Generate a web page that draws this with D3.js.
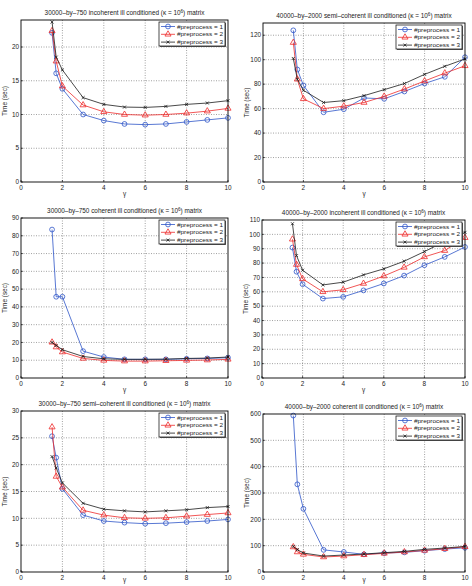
<!DOCTYPE html>
<html>
<head>
<meta charset="utf-8">
<script src="https://cdn.jsdelivr.net/npm/d3@7"></script>
<style>
  body { margin: 0; background: #fff; }
  svg { display: block; font-family: "Liberation Sans", Arial, sans-serif; }
</style>
</head>
<body>
<svg id="chart" width="472" height="586"></svg>
<script>
// gamma values shared by every panel
const gammas = [1.5, 1.7, 2, 3, 4, 5, 6, 7, 8, 9, 10];
const xTicks = [0, 2, 4, 6, 8, 10];
const seriesNames = ["#preprocess = 1", "#preprocess = 2", "#preprocess = 3"];

const titles = [
  "30000\u2013by\u2013750 incoherent ill conditioned (\u03ba = 10",
  "40000\u2013by\u20132000 semi\u2013coherent ill conditioned (\u03ba = 10",
  "30000\u2013by\u2013750 coherent ill conditioned (\u03ba = 10",
  "40000\u2013by\u20132000 incoherent ill conditioned (\u03ba = 10",
  "30000\u2013by\u2013750 semi\u2013coherent ill conditioned (\u03ba = 10",
  "40000\u2013by\u20132000 coherent ill conditioned (\u03ba = 10"
];
const yMax = [24, 130, 90, 110, 30, 600];
const yStep = [5, 20, 10, 10, 5, 100];

// time (sec) per panel, one array per #preprocess
const inc750_1 = [22.1, 16.1, 13.8, 10.0, 9.1, 8.6, 8.5, 8.6, 8.9, 9.2, 9.5];
const inc750_2 = [22.4, 17.9, 14.2, 11.4, 10.4, 10.0, 9.9, 10.0, 10.2, 10.5, 10.9];
const inc750_3 = [23.7, 18.5, 16.6, 12.5, 11.5, 11.1, 11.05, 11.2, 11.5, 11.7, 12.05];

const semi2000_1 = [124, 92, 79, 57, 59.5, 68.7, 68, 74, 80.5, 86, 102];
const semi2000_2 = [114, 84, 68, 60, 62, 65, 70, 76, 82.6, 89, 95];
const semi2000_3 = [101, 84, 75, 65, 66.5, 70.6, 75.5, 80.5, 88, 94.6, 100.6];

const coh750_1 = [83.5, 45.7, 45.7, 15.1, 11.8, 10.5, 10.5, 10.5, 10.8, 11, 11.4];
const coh750_2 = [20.1, 17.4, 14.6, 11, 9.9, 9.5, 9.5, 9.7, 9.9, 10.1, 10.5];
const coh750_3 = [20, 18.3, 15.9, 12.1, 10.8, 10.5, 10.5, 10.6, 11, 11.2, 11.8];

const inc2000_1 = [90.8, 74, 65.3, 55.3, 56.5, 61, 65.8, 71.3, 78.5, 84.3, 91.2];
const inc2000_2 = [96.6, 79, 69, 60, 61.4, 65.8, 71, 77, 84.3, 88.7, 97.7];
const inc2000_3 = [107.4, 85.2, 75, 64.8, 66.7, 71.8, 76, 81.3, 88, 95, 101.4];

const semi750_1 = [25.3, 21.3, 15.5, 10.6, 9.5, 9.2, 9.0, 9.1, 9.3, 9.5, 9.8];
const semi750_2 = [27, 17.8, 15.8, 11.5, 10.6, 10.1, 10.0, 10.1, 10.4, 10.7, 11.0];
const semi750_3 = [21.5, 19.4, 16.6, 12.8, 11.7, 11.4, 11.2, 11.4, 11.6, 12.0, 12.2];

const coh2000_1 = [594, 333, 240, 84, 76, 67, 72, 74.5, 81, 87, 92];
const coh2000_2 = [95, 76, 67, 57, 60.6, 65.7, 70.7, 76, 82, 88.4, 96];
const coh2000_3 = [97, 85, 72, 60.6, 64.4, 68.2, 73.3, 78.3, 86, 91, 97];

const panelData = [
  [inc750_1, inc750_2, inc750_3],
  [semi2000_1, semi2000_2, semi2000_3],
  [coh750_1, coh750_2, coh750_3],
  [inc2000_1, inc2000_2, inc2000_3],
  [semi750_1, semi750_2, semi750_3],
  [coh2000_1, coh2000_2, coh2000_3]
];

// panel boxes (layout)
const boxes = [
  { l: 21, r: 228, t: 20, b: 182 },
  { l: 263, r: 465, t: 23, b: 182 },
  { l: 21, r: 228, t: 218, b: 378 },
  { l: 262, r: 465, t: 220, b: 378 },
  { l: 21, r: 228, t: 411, b: 572 },
  { l: 263, r: 465, t: 414, b: 572 }
];

const colors = ["#2f55c8", "#ee2b2b", "#1a1a1a"];
const fs = 6.4;

const svg = d3.select("#chart");

function drawMarker(g, i, x, y) {
  if (i === 0) {
    g.append("circle").attr("cx", x).attr("cy", y).attr("r", 2.4)
      .attr("fill", "none").attr("stroke", colors[0]).attr("stroke-width", 0.8);
  } else if (i === 1) {
    g.append("path").attr("transform", `translate(${x},${y})`)
      .attr("d", d3.symbol(d3.symbolTriangle, 16)())
      .attr("fill", "none").attr("stroke", colors[1]).attr("stroke-width", 0.8);
  } else {
    g.append("path").attr("transform", `translate(${x},${y})`)
      .attr("d", d3.symbol(d3.symbolX, 7)())
      .attr("fill", "none").attr("stroke", colors[2]).attr("stroke-width", 0.8);
  }
}

boxes.forEach((bx, p) => {
  const g = svg.append("g");
  const x = d3.scaleLinear().domain([0, 10]).range([bx.l, bx.r]);
  const y = d3.scaleLinear().domain([0, yMax[p]]).range([bx.b, bx.t]);
  const yTicks = d3.range(0, yMax[p] + 0.001, yStep[p]);

  // grid
  g.selectAll(".gx").data(xTicks.slice(1, -1)).enter().append("line")
    .attr("x1", d => x(d)).attr("x2", d => x(d))
    .attr("y1", bx.t).attr("y2", bx.b)
    .attr("stroke", "#444").attr("stroke-width", 0.5).attr("stroke-dasharray", "1,1.5");
  g.selectAll(".gy").data(yTicks.filter(d => d > 0 && d < yMax[p])).enter().append("line")
    .attr("x1", bx.l).attr("x2", bx.r)
    .attr("y1", d => y(d)).attr("y2", d => y(d))
    .attr("stroke", "#444").attr("stroke-width", 0.5).attr("stroke-dasharray", "1,1.5");

  // inner ticks
  g.selectAll(".tx").data(xTicks).enter().append("line")
    .attr("x1", d => x(d)).attr("x2", d => x(d))
    .attr("y1", bx.b).attr("y2", bx.b - 2)
    .attr("stroke", "#000").attr("stroke-width", 0.6);
  g.selectAll(".ty").data(yTicks).enter().append("line")
    .attr("x1", bx.l).attr("x2", bx.l + 2)
    .attr("y1", d => y(d)).attr("y2", d => y(d))
    .attr("stroke", "#000").attr("stroke-width", 0.6);

  // tick labels
  g.selectAll(".lx").data(xTicks).enter().append("text")
    .attr("x", d => x(d)).attr("y", bx.b + 8)
    .attr("text-anchor", "middle").attr("font-size", fs).attr("fill", "#222")
    .text(d => d);
  g.selectAll(".ly").data(yTicks).enter().append("text")
    .attr("x", bx.l - 2).attr("y", d => y(d) + 2.2)
    .attr("text-anchor", "end").attr("font-size", fs).attr("fill", "#222")
    .text(d => d);

  // axis labels
  g.append("text").attr("x", (bx.l + bx.r) / 2).attr("y", Math.min(bx.b + 14, 582))
    .attr("text-anchor", "middle").attr("font-size", fs).attr("fill", "#222")
    .text("\u03b3");
  g.append("text")
    .attr("transform", `translate(${bx.l - 14},${(bx.t + bx.b) / 2}) rotate(-90)`)
    .attr("text-anchor", "middle").attr("font-size", fs).attr("fill", "#222")
    .text("Time (sec)");

  // title with superscript
  const tt = g.append("text").attr("x", (bx.l + bx.r) / 2).attr("y", bx.t - 5)
    .attr("text-anchor", "middle").attr("font-size", fs).attr("fill", "#222");
  tt.append("tspan").text(titles[p]);
  tt.append("tspan").attr("dy", -2.5).attr("font-size", 4.6).text("6");
  tt.append("tspan").attr("dy", 2.5).text(") matrix");

  // lines and markers
  const line = d3.line().x((d, i) => x(gammas[i])).y(d => y(d));
  panelData[p].forEach((vals, i) => {
    g.append("path").attr("d", line(vals))
      .attr("fill", "none").attr("stroke", colors[i]).attr("stroke-width", 0.8);
    vals.forEach((v, k) => drawMarker(g, i, x(gammas[k]), y(v)));
  });

  // box
  g.append("rect").attr("x", bx.l).attr("y", bx.t)
    .attr("width", bx.r - bx.l).attr("height", bx.b - bx.t)
    .attr("fill", "none").attr("stroke", "#000").attr("stroke-width", 0.9);

  // legend
  const lw = 66, lh = 24;
  const lx = bx.r - lw - 3, ly = bx.t + 2;
  g.append("rect").attr("x", lx + 1).attr("y", ly + 1).attr("width", lw).attr("height", lh)
    .attr("fill", "#666");
  g.append("rect").attr("x", lx).attr("y", ly).attr("width", lw).attr("height", lh)
    .attr("fill", "#fff").attr("stroke", "#000").attr("stroke-width", 0.7);
  seriesNames.forEach((name, i) => {
    const yy = ly + 4.5 + i * 7.8;
    g.append("line").attr("x1", lx + 2).attr("x2", lx + 16)
      .attr("y1", yy).attr("y2", yy)
      .attr("stroke", colors[i]).attr("stroke-width", 0.8);
    drawMarker(g, i, lx + 9, yy);
    g.append("text").attr("x", lx + 18).attr("y", yy + 2)
      .attr("font-size", 5.8).attr("fill", "#222")
      .attr("textLength", 46).attr("lengthAdjust", "spacingAndGlyphs")
      .text(name);
  });
});
</script>
</body>
</html>
